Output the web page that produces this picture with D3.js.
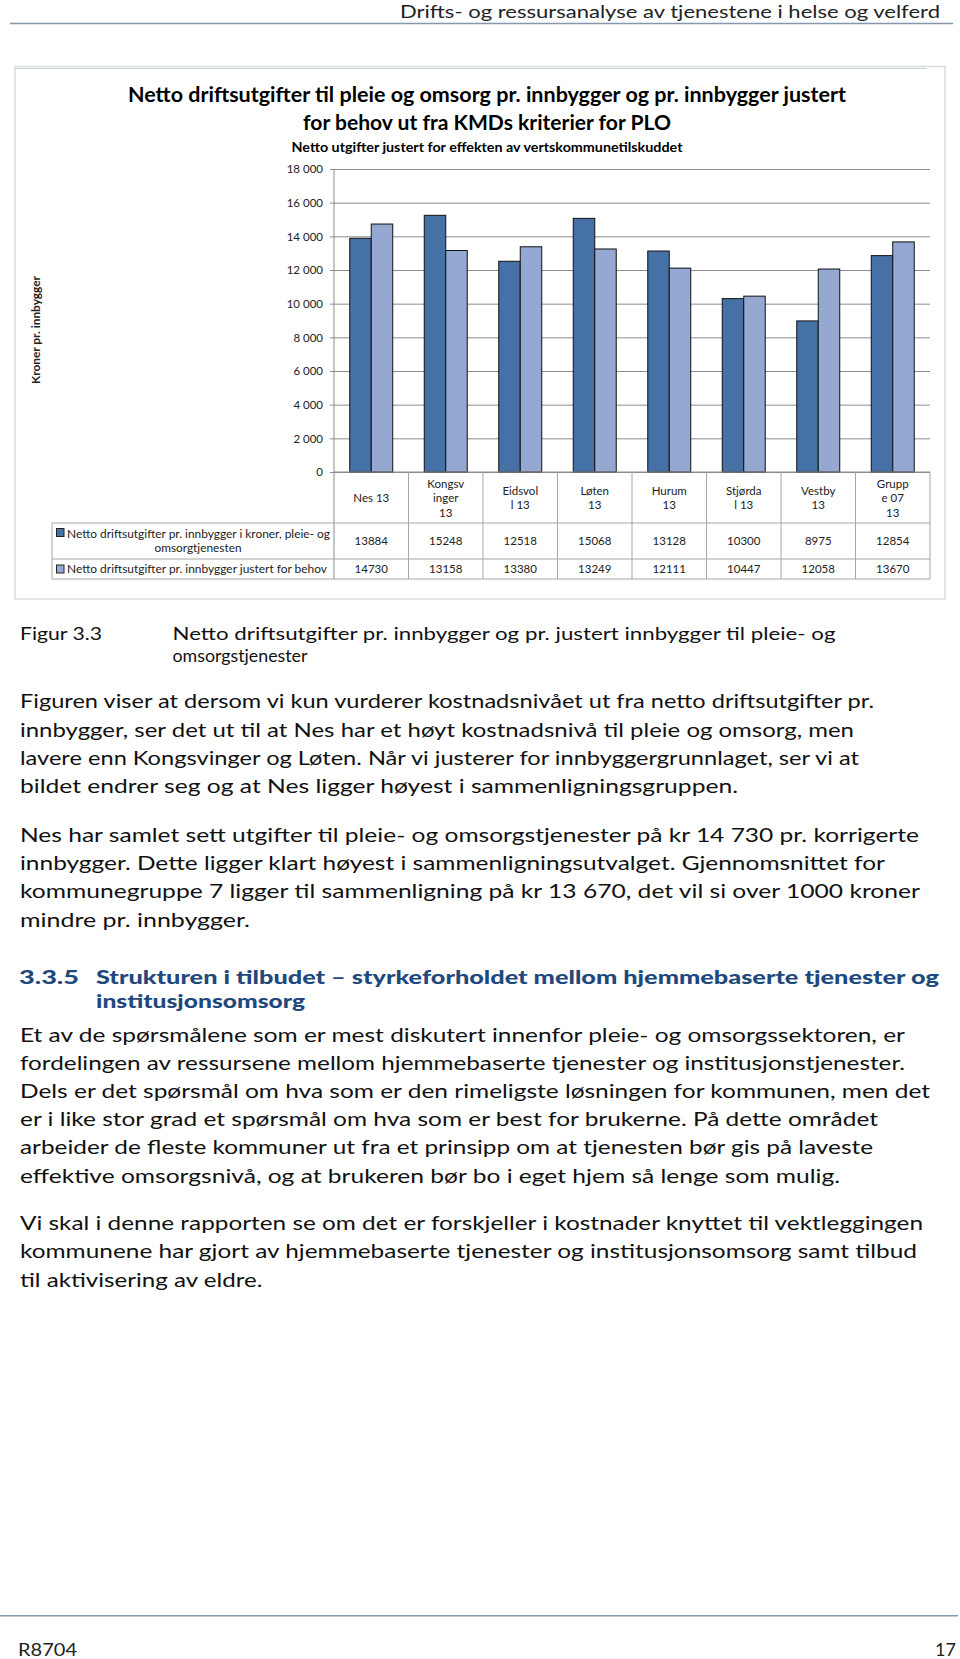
<!DOCTYPE html>
<html><head><meta charset="utf-8">
<script src="https://cdn.jsdelivr.net/npm/d3@7"></script>
<style>html,body{margin:0;padding:0;background:#fff;} svg{display:block;}</style>
</head><body>
<script>
// ---------- DATA ----------
const categories = ["Nes 13","Kongsvinger 13","Eidsvoll 13","Løten 13","Hurum 13","Stjørdal 13","Vestby 13","Gruppe 07 13"];
const categoryLabelLines = [["Nes 13"],["Kongsv","inger","13"],["Eidsvol","l 13"],["Løten","13"],["Hurum","13"],["Stjørda","l 13"],["Vestby","13"],["Grupp","e 07","13"]];
const seriesKeys = ["netto","justert"];
const seriesNames = ["Netto driftsutgifter pr. innbygger i kroner, pleie- og omsorgtjenesten","Netto driftsutgifter pr. innbygger justert for behov"];
const nettoDrift   = [13884,15248,12518,15068,13128,10300,8975,12854];
const justertBehov = [14730,13158,13380,13249,12111,10447,12058,13670];
const yTicks = [0,2000,4000,6000,8000,10000,12000,14000,16000,18000];
const yTickLabels = ["0","2 000","4 000","6 000","8 000","10 000","12 000","14 000","16 000","18 000"];
const seriesColors = ["#4671a6","#94a8d2"];

// ---------- TEXT ----------
const BODY = "Lato, 'Liberation Sans', sans-serif";
const svg = d3.select("body").append("svg").attr("width",960).attr("height",1659);
svg.append("rect").attr("width",960).attr("height",1659).attr("fill","#fff");

function T(p, s, x, y, o={}) {
  const t = p.append("text").attr("x",x).attr("y",y).text(s)
    .attr("font-family", o.family||BODY).attr("font-size", o.size||11)
    .attr("font-weight", o.weight||"normal").attr("fill", o.fill||"#000")
    .attr("text-anchor", o.anchor||"start");
  if (o.len) t.attr("textLength", o.len).attr("lengthAdjust","spacingAndGlyphs");
  return t;
}

// header / footer
T(svg, "Drifts- og ressursanalyse av tjenestene i helse og velferd", 940, 18, {size:18, anchor:"end", len:540, fill:"#222"});
svg.append("line").attr("x1",10).attr("x2",953).attr("y1",23.5).attr("y2",23.5).attr("stroke","#8497ae").attr("stroke-width",1.6);
svg.append("line").attr("x1",0).attr("x2",958).attr("y1",1615.7).attr("y2",1615.7).attr("stroke","#8497ae").attr("stroke-width",1.6);
T(svg, "R8704", 18, 1656, {size:18, len:59, fill:"#222"});
T(svg, "17", 956, 1656, {size:18, anchor:"end", fill:"#222"});

// ---------- CHART ----------
const chart = svg.append("g");
chart.append("rect").attr("x",15).attr("y",66.5).attr("width",930).attr("height",532.5)
  .attr("fill","#fff").attr("stroke","#d6dde1").attr("stroke-width",1.5);
chart.append("line").attr("x1",15).attr("x2",927).attr("y1",68.5).attr("y2",68.5).attr("stroke","#c9d0d4").attr("stroke-width",1);

T(chart, "Netto driftsutgifter til pleie og omsorg pr. innbygger og pr. innbygger justert", 487, 101.5, {size:20, weight:"bold", anchor:"middle", len:718});
T(chart, "for behov ut fra KMDs kriterier for PLO", 487, 130, {size:20, weight:"bold", anchor:"middle", len:368});
T(chart, "Netto utgifter justert for effekten av vertskommunetilskuddet", 487, 151.5, {size:14, weight:"bold", anchor:"middle", len:391});

const plotL = 334, plotR = 930, y0 = 472, yTop = 169;
const x = d3.scaleBand().domain(categories).range([plotL, plotR]).paddingInner(0).paddingOuter(0);
const xs = d3.scaleBand().domain(seriesKeys).range([0, x.bandwidth()]).paddingInner(0).paddingOuter(0.733);
const y = d3.scaleLinear().domain([0,18000]).range([y0, yTop]);

// gridlines
const grid = chart.append("g").attr("transform",`translate(${plotL},0)`)
  .call(d3.axisLeft(y).tickValues(yTicks).tickSize(-(plotR-plotL)).tickFormat(""));
grid.select(".domain").remove();
grid.selectAll("line").attr("stroke","#8c8c8c").attr("stroke-width",1);

// y axis ticks + labels
const ax = chart.append("g").attr("transform",`translate(${plotL},0)`)
  .call(d3.axisLeft(y).tickValues(yTicks).tickSize(4).tickPadding(7).tickFormat((d,i)=>yTickLabels[i]));
ax.select(".domain").remove();
ax.selectAll("line").attr("stroke","#8c8c8c");
ax.selectAll("text").attr("font-family",BODY).attr("font-size",11.5).attr("fill","#222").attr("dy","0.34em");

// bars
const rows = categories.map((c,i)=>({c, netto:nettoDrift[i], justert:justertBehov[i]}));
const bars = chart.append("g");
seriesKeys.forEach((k,si)=>{
  bars.selectAll(".b"+si).data(rows).join("rect")
    .attr("x", d=>x(d.c)+xs(k)).attr("width", xs.bandwidth())
    .attr("y", d=>y(d[k])).attr("height", d=>y(0)-y(d[k]))
    .attr("fill", seriesColors[si]).attr("stroke","#111").attr("stroke-width",1);
});

// axes lines (vertical through table)
chart.append("line").attr("x1",plotL).attr("x2",plotL).attr("y1",yTop).attr("y2",579).attr("stroke","#8c8c8c");
chart.append("line").attr("x1",plotL).attr("x2",plotR).attr("y1",y0).attr("y2",y0).attr("stroke","#8c8c8c");

// data table
const tbl = chart.append("g").attr("stroke","#a6a6a6").attr("stroke-width",1);
[523,559,579].forEach(yy=> tbl.append("line").attr("x1",52).attr("x2",plotR).attr("y1",yy).attr("y2",yy));
tbl.append("line").attr("x1",52).attr("x2",52).attr("y1",523).attr("y2",579);
categories.slice(1).map(c=>x(c)).concat([plotR]).forEach(xx=>
  tbl.append("line").attr("x1",xx).attr("x2",xx).attr("y1",y0).attr("y2",579));

const lineSets = {1:[498],2:[490.7,505.3],3:[483.5,498,512.5]};
categoryLabelLines.forEach((lines,i)=>{
  const cx = x(categories[i]) + x.bandwidth()/2;
  lines.forEach((s,j)=> T(chart, s, cx, lineSets[lines.length][j]+4, {size:11.5, anchor:"middle", fill:"#222"}));
});
nettoDrift.forEach((v,i)=> T(chart, String(v), x(categories[i])+x.bandwidth()/2, 545, {size:11.5, anchor:"middle", fill:"#222"}));
justertBehov.forEach((v,i)=> T(chart, String(v), x(categories[i])+x.bandwidth()/2, 573, {size:11.5, anchor:"middle", fill:"#222"}));

// legend keys in table
chart.append("rect").attr("x",56.5).attr("y",528.5).attr("width",7.5).attr("height",8).attr("fill",seriesColors[0]).attr("stroke","#222").attr("stroke-width",1);
chart.append("rect").attr("x",56.5).attr("y",565).attr("width",7.5).attr("height",8).attr("fill",seriesColors[1]).attr("stroke","#222").attr("stroke-width",1);
T(chart, "Netto driftsutgifter pr. innbygger i kroner, pleie- og", 67, 538.3, {size:11.5, len:263, fill:"#222"});
T(chart, "omsorgtjenesten", 198, 552.3, {size:11.5, anchor:"middle", len:87, fill:"#222"});
T(chart, "Netto driftsutgifter pr. innbygger justert for behov", 67, 573.3, {size:11.5, len:260, fill:"#222"});

// y axis title
T(chart, "Kroner pr. innbygger", 0, 0, {size:11.5, weight:"bold", anchor:"middle", len:108, fill:"#222"})
  .attr("transform","translate(40,330) rotate(-90)");

// ---------- BODY TEXT ----------
const bodyStyle = {size:19, fill:"#111"};
T(svg, "Figur 3.3", 20, 639.5, {size:18, fill:"#111", len:82});
T(svg, "Netto driftsutgifter pr. innbygger og pr. justert innbygger til pleie- og", 172.5, 639.5, {size:18, fill:"#111", len:663});
T(svg, "omsorgstjenester", 172.5, 661.5, {size:18, fill:"#111", len:135});

const bodyLines = [
  ["Figuren viser at dersom vi kun vurderer kostnadsnivået ut fra netto driftsutgifter pr.", 708, 874],
  ["innbygger, ser det ut til at Nes har et høyt kostnadsnivå til pleie og omsorg, men", 736.5, 854],
  ["lavere enn Kongsvinger og Løten. Når vi justerer for innbyggergrunnlaget, ser vi at", 764.5, 859],
  ["bildet endrer seg og at Nes ligger høyest i sammenligningsgruppen.", 793, 738],
  ["Nes har samlet sett utgifter til pleie- og omsorgstjenester på kr 14 730 pr. korrigerte", 841.5, 919],
  ["innbygger. Dette ligger klart høyest i sammenligningsutvalget. Gjennomsnittet for", 870, 885],
  ["kommunegruppe 7 ligger til sammenligning på kr 13 670, det vil si over 1000 kroner", 898, 920],
  ["mindre pr. innbygger.", 926.5, 250],
  ["Et av de spørsmålene som er mest diskutert innenfor pleie- og omsorgssektoren, er", 1041.5, 905],
  ["fordelingen av ressursene mellom hjemmebaserte tjenester og institusjonstjenester.", 1070, 905],
  ["Dels er det spørsmål om hva som er den rimeligste løsningen for kommunen, men det", 1097.5, 930],
  ["er i like stor grad et spørsmål om hva som er best for brukerne. På dette området", 1125.5, 878],
  ["arbeider de fleste kommuner ut fra et prinsipp om at tjenesten bør gis på laveste", 1154, 873],
  ["effektive omsorgsnivå, og at brukeren bør bo i eget hjem så lenge som mulig.", 1182.5, 840],
  ["Vi skal i denne rapporten se om det er forskjeller i kostnader knyttet til vektleggingen", 1230, 923],
  ["kommunene har gjort av hjemmebaserte tjenester og institusjonsomsorg samt tilbud", 1258, 917],
  ["til aktivisering av eldre.", 1286.5, 262.5]
];
bodyLines.forEach(([s,yy,end])=> T(svg, s, 20, yy, Object.assign({len:end-20}, bodyStyle)));

// heading
const HC = "#1f497d";
T(svg, "3.3.5", 19, 983.5, {size:19.5, weight:"900", fill:HC, len:60});
T(svg, "Strukturen i tilbudet – styrkeforholdet mellom hjemmebaserte tjenester og", 96, 983.5, {size:19.5, weight:"900", fill:HC, len:843});
T(svg, "institusjonsomsorg", 96, 1007.5, {size:19.5, weight:"900", fill:HC, len:209});
</script>
</body></html>
